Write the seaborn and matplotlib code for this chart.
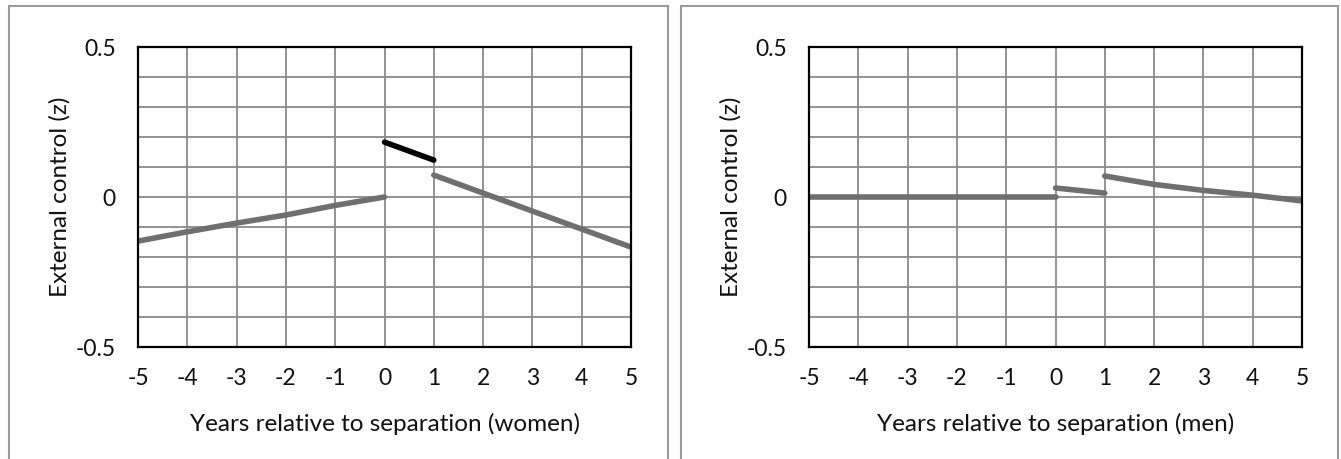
import matplotlib
matplotlib.use("Agg")
import matplotlib.pyplot as plt
from matplotlib.patches import Rectangle
from matplotlib.ticker import MultipleLocator
import seaborn as sns

# data
years_pre = [-5, -4, -3, -2, -1, 0]
years_sep = [0, 1]
years_post = [1, 2, 3, 4, 5]

women_pre = [-0.147, -0.116, -0.087, -0.060, -0.028, 0.0]
women_sep = [0.183, 0.123]
women_post = [0.073, 0.013, -0.047, -0.107, -0.167]

men_pre = [0.0, 0.0, 0.0, 0.0, 0.0, 0.0]
men_sep = [0.030, 0.013]
men_post = [0.070, 0.042, 0.022, 0.006, -0.013]

x_ticks = [-5, -4, -3, -2, -1, 0, 1, 2, 3, 4, 5]
y_ticks = [-0.5, 0, 0.5]
y_ticklabels = ["-0.5", "0", "0.5"]

sns.set_style("white")
plt.rcParams["font.family"] = ["Lato", "DejaVu Sans"]

W, H = 1341, 459
fig = plt.figure(figsize=(W / 100, H / 100), dpi=100)

gray = "#6f6f6f"
grid_c = "#8a8a8a"


def panel(left_px, sep_color, pre, sep, post, xlabel):
    ax = fig.add_axes([left_px / W, (H - 347) / H, 493 / W, 300 / H])
    sns.lineplot(x=years_pre, y=pre, color=gray, lw=4, ax=ax)
    sns.lineplot(x=years_sep, y=sep, color=sep_color, lw=4, ax=ax)
    sns.lineplot(x=years_post, y=post, color=gray, lw=4, ax=ax)
    ax.set_xlim(-5, 5)
    ax.set_ylim(-0.5, 0.5)
    ax.set_xticks(x_ticks)
    ax.set_xticklabels([str(t) for t in x_ticks])
    ax.set_yticks(y_ticks)
    ax.set_yticklabels(y_ticklabels)
    ax.yaxis.set_minor_locator(MultipleLocator(0.1))
    ax.grid(True, which="both", color=grid_c, lw=1.3)
    ax.set_axisbelow(True)
    ax.tick_params(which="major", direction="out", length=6, width=1.5,
                   color="black", labelsize=16.5, labelcolor="#111111")
    ax.tick_params(which="minor", length=0)
    ax.tick_params(axis="y", pad=10)
    ax.tick_params(axis="x", pad=9)
    for s in ax.spines.values():
        s.set_color("black")
        s.set_linewidth(1.6)
    ax.set_xlabel(xlabel, fontsize=17.5, labelpad=17, color="#111111")
    ax.set_ylabel("External control (z)", fontsize=17.5, labelpad=4,
                  color="#111111")
    return ax


panel(138, "black", women_pre, women_sep, women_post,
      "Years relative to separation (women)")
panel(809, gray, men_pre, men_sep, men_post,
      "Years relative to separation (men)")

# outer frames around each panel
for x0, x1 in [(9, 668), (681, 1338)]:
    fig.add_artist(Rectangle((x0 / W, -0.1), (x1 - x0) / W, 1.1 - 6 / H,
                             transform=fig.transFigure, fill=False,
                             edgecolor="#9a9a9a", lw=1.5))

fig.savefig("out.png", dpi=100)
